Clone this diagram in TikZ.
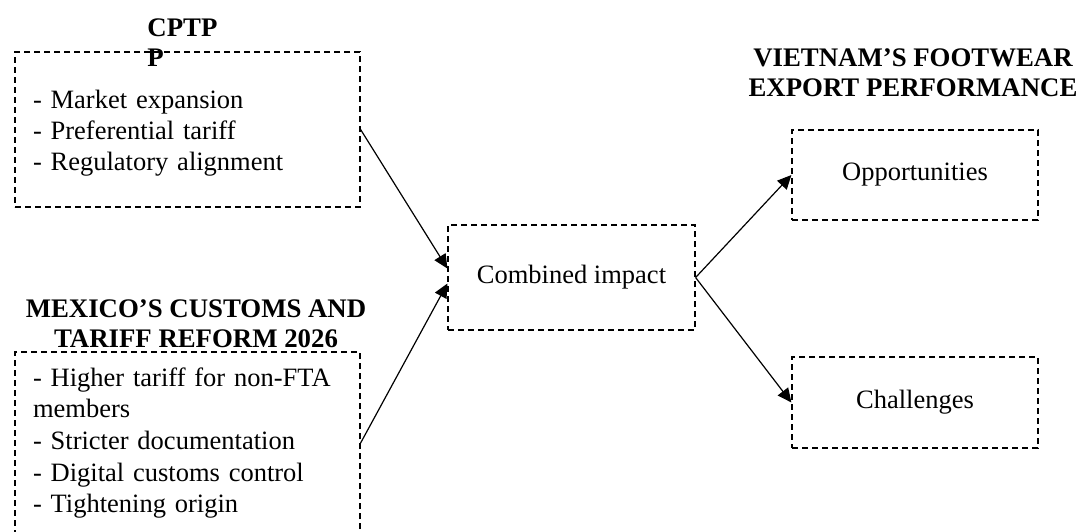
\documentclass[tikz,border=0pt]{standalone}
\usepackage{fontspec}
\setmainfont{Liberation Serif}
\usetikzlibrary{arrows.meta}
\begin{document}
\begin{tikzpicture}[x=1pt,y=-1pt,
  dbox/.style={draw, line width=0.6pt, dash pattern=on 3.2pt off 1.8pt, inner sep=0pt,
    font=\fontsize{13.25}{15.6}\selectfont},
  listbox/.style={dbox, minimum width=172.5pt, text width=154.5pt, inner xsep=9pt, align=left},
  smallbox/.style={dbox, align=center},
  ttl/.style={font=\bfseries\fontsize{13.4}{15}\selectfont, inner sep=0pt},
  arr/.style={line width=0.6pt, -{Triangle[length=7pt,width=6.5pt]}}]
\clip (0,0) rectangle (539.5,265.5);
% boxes
\node[listbox, minimum height=77.5pt] (cptpp) at (93.75,64.75)
  {\rule{0pt}{13pt}- Market expansion\\- Preferential tariff\\- Regulatory alignment};
\node[listbox, minimum height=91pt, font=\fontsize{13.25}{15.85}\selectfont] (mex) at (93.75,221.5)
  {- Higher tariff for non-FTA\\members\\- Stricter documentation\\- Digital customs control\\- Tightening origin};
\node[smallbox, minimum width=123.5pt, minimum height=52.5pt] (comb) at (285.75,138.75) {Combined impact};
\node[smallbox, minimum width=123pt, minimum height=45pt] (opp) at (457.5,87.5) {Opportunities};
\node[smallbox, minimum width=123pt, minimum height=45.5pt] (chal) at (457.5,201.25) {Challenges};
% titles
\node[ttl, align=left, anchor=west] (t1) at (73.5,21.5) {CPTP\\P};
\node[ttl, align=center] (t2) at (98,162) {MEXICO’S CUSTOMS AND\\TARIFF REFORM 2026};
\node[ttl, align=center] (t3) at (456.5,36.25) {VIETNAM’S FOOTWEAR\\EXPORT PERFORMANCE};
% connectors
\draw[arr] (cptpp.east) -- ([yshift=4.5pt]comb.west);
\draw[arr] (mex.east) -- ([yshift=-3pt]comb.west);
\draw[arr] (comb.east) -- (opp.west);
\draw[arr] (comb.east) -- (chal.west);
\end{tikzpicture}
\end{document}
